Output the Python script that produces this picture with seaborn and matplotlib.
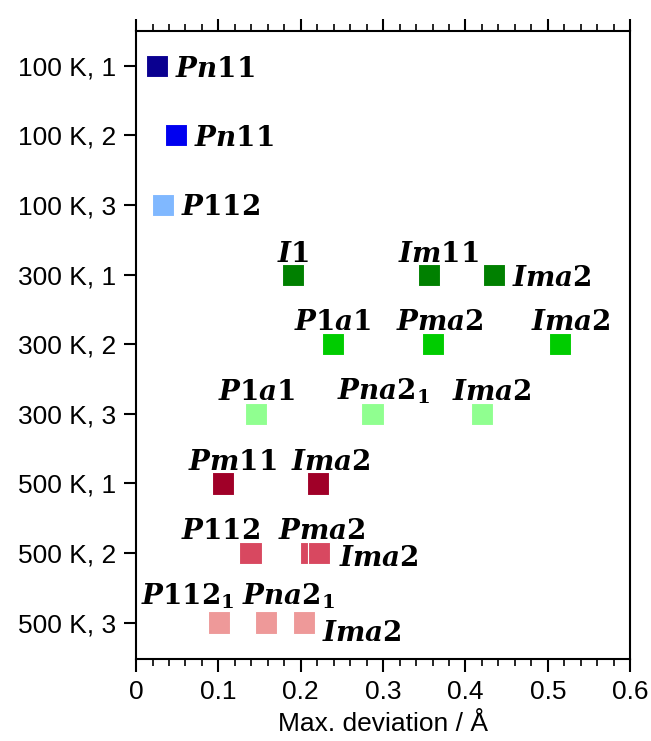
import pandas as pd
import matplotlib
matplotlib.use("Agg")
import matplotlib.pyplot as plt
from matplotlib.ticker import MultipleLocator, FuncFormatter
import seaborn as sns

# categories on the y axis (temperature, run)
categories = ['100 K, 1', '100 K, 2', '100 K, 3',
              '300 K, 1', '300 K, 2', '300 K, 3',
              '500 K, 1', '500 K, 2', '500 K, 3']

colors = ['#0A0090', '#0000F0', '#80B8FF',
          '#008000', '#00CC00', '#90FF90',
          '#A00028', '#D84860', '#EE9999']

# one entry per marker
point_cat = ['100 K, 1', '100 K, 2', '100 K, 3',
             '300 K, 1', '300 K, 1', '300 K, 1',
             '300 K, 2', '300 K, 2', '300 K, 2',
             '300 K, 3', '300 K, 3', '300 K, 3',
             '500 K, 1', '500 K, 1',
             '500 K, 2', '500 K, 2', '500 K, 2',
             '500 K, 3', '500 K, 3', '500 K, 3']
max_dev = [0.026, 0.048, 0.033,
           0.191, 0.356, 0.435,
           0.239, 0.361, 0.515,
           0.146, 0.287, 0.420,
           0.106, 0.221,
           0.139, 0.212, 0.222,
           0.101, 0.158, 0.204]
space_group = [r'$Pn11$', r'$Pn11$', r'$P112$',
               r'$I1$', r'$Im11$', r'$Ima2$',
               r'$P1a1$', r'$Pma2$', r'$Ima2$',
               r'$P1a1$', r'$Pna2_1$', r'$Ima2$',
               r'$Pm11$', r'$Ima2$',
               r'$P112$', r'$Pma2$', r'$Ima2$',
               r'$P112_1$', r'$Pna2_1$', r'$Ima2$']

# label placement: (ha, dx px, dy px) relative to marker centre, baseline anchored
label_place = [('left', 18, -11), ('left', 18, -11), ('left', 18, -10),
               ('center', 0, 13), ('center', 9, 13), ('left', 18, -11),
               ('center', 0, 14), ('center', 7, 14), ('center', 11, 14),
               ('center', 0, 14), ('center', 11, 14), ('center', 10, 14),
               ('center', 9, 13), ('center', 13, 13),
               ('center', -30, 14), ('center', 11, 14), ('left', 20, -13),
               ('center', -32, 18), ('center', 22, 18), ('left', 18, -18)]

df = pd.DataFrame({'cat': point_cat, 'dev': max_dev, 'group': space_group})

sns.set_theme(style='ticks')
plt.rcParams['font.family'] = ['Liberation Sans', 'DejaVu Sans']
plt.rcParams['text.color'] = 'black'
plt.rcParams['xtick.color'] = 'black'
plt.rcParams['ytick.color'] = 'black'
plt.rcParams['axes.labelcolor'] = 'black'
plt.rcParams['mathtext.fontset'] = 'custom'
plt.rcParams['mathtext.it'] = 'DejaVu Serif:italic:bold'
plt.rcParams['mathtext.rm'] = 'DejaVu Serif:bold'
plt.rcParams['mathtext.bf'] = 'DejaVu Serif:bold'

fig = plt.figure(figsize=(6.51, 7.41), dpi=100)
ax = fig.add_axes([0.209, 0.111, 0.759, 0.847])

sns.stripplot(data=df, x='dev', y='cat', hue='cat', order=categories,
              hue_order=categories, palette=colors, marker='s', size=16,
              jitter=False, linewidth=0.8, edgecolor='white', legend=False, ax=ax)

px = 72.0 / fig.dpi
for cat, dev, txt, (ha, dx, dy) in zip(point_cat, max_dev, space_group, label_place):
    ax.annotate(txt, (dev, categories.index(cat)), xytext=(dx * px, dy * px),
                textcoords='offset points', ha=ha, va='baseline', fontsize=20,
                color='black', annotation_clip=False)

ax.set_xlim(0, 0.6)
ax.set_ylim(8.52, -0.5)
ax.xaxis.set_major_locator(MultipleLocator(0.1))
ax.xaxis.set_minor_locator(MultipleLocator(0.02))
ax.xaxis.set_major_formatter(FuncFormatter(lambda v, p: f'{v:.1f}'.replace('0.0', '0')))
ax.set_xlabel('Max. deviation / Å', fontsize=19, labelpad=6)
ax.set_ylabel('')

for sp in ax.spines.values():
    sp.set_visible(True)
    sp.set_linewidth(1.5)
    sp.set_color('black')

ax.tick_params(axis='x', which='major', direction='out', length=9, width=1.5,
               top=True, bottom=True, labelsize=19, pad=6, color='black')
ax.tick_params(axis='x', which='minor', direction='out', length=5, width=1.2,
               top=True, bottom=True, color='black')
ax.tick_params(axis='y', which='major', direction='out', length=9, width=1.5,
               left=True, right=False, labelsize=19, pad=5, color='black')

fig.savefig('out.png', dpi=100)
